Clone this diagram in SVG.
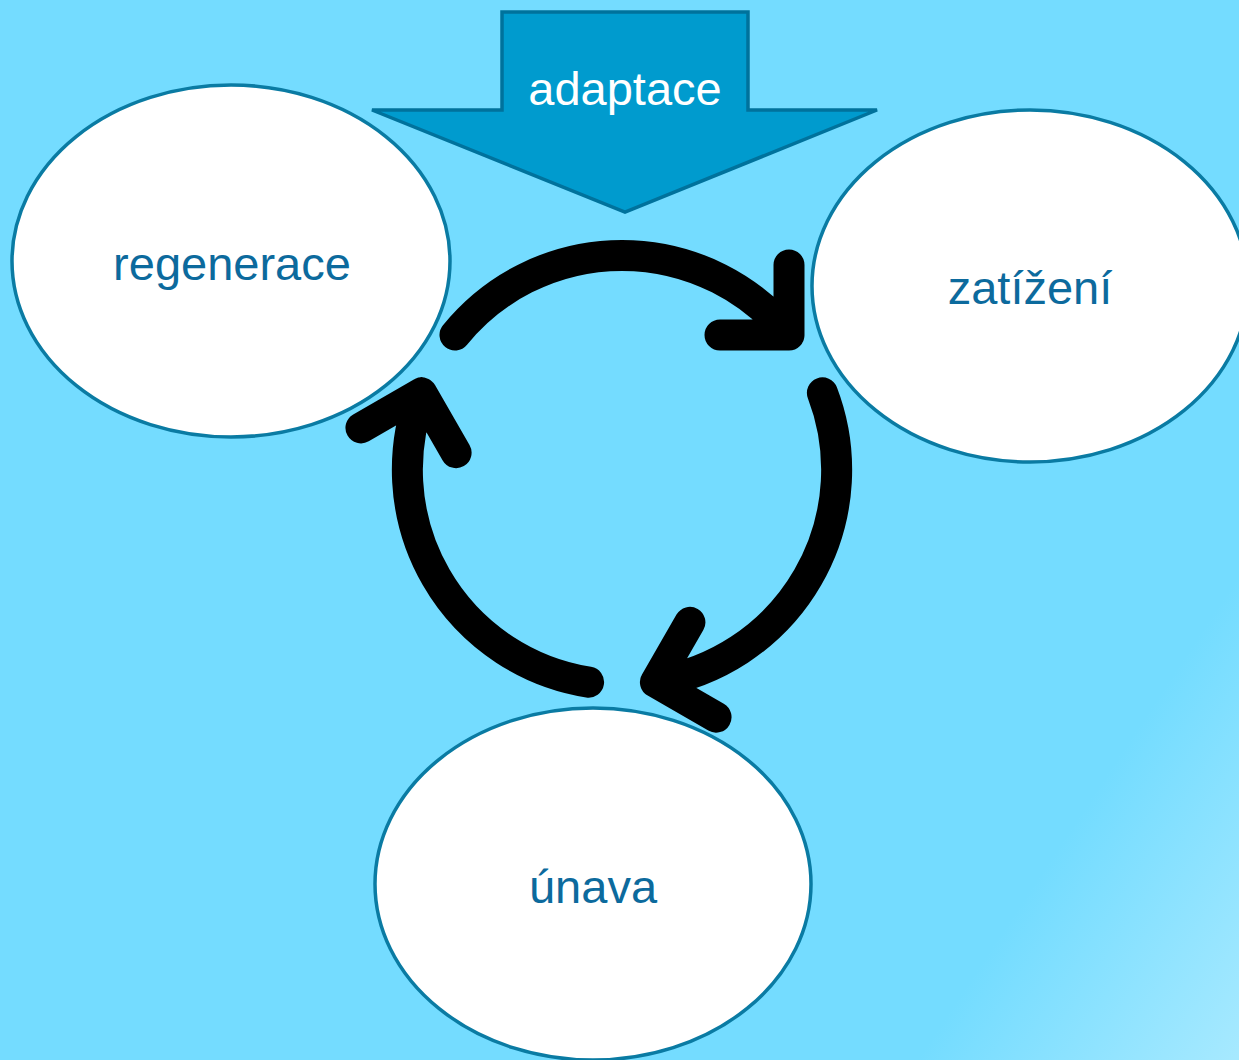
<svg xmlns="http://www.w3.org/2000/svg" width="1239" height="1060" viewBox="0 0 1239 1060">
  <defs>
    <linearGradient id="bg" gradientUnits="userSpaceOnUse" x1="1070" y1="830" x2="1290" y2="976">
      <stop offset="0" stop-color="#74DCFF"/>
      <stop offset="1" stop-color="#A6E9FF"/>
    </linearGradient>
  </defs>
  <style>
    .node { fill: #FFFFFF; stroke: #0A7BA3; stroke-width: 3.5; }
    .label { font-family: "Liberation Sans", Arial, sans-serif; font-size: 47px; text-anchor: middle; fill: #0C6A9D; }
    .banner { fill: #009BCE; stroke: #00729C; stroke-width: 3.5; stroke-linejoin: miter; }
    .banner-label { font-family: "Liberation Sans", Arial, sans-serif; font-size: 47px; text-anchor: middle; fill: #FFFFFF; }
    .cycle { fill: none; stroke: #000000; stroke-width: 31; stroke-linecap: round; stroke-linejoin: round; }
  </style>

  <!-- background -->
  <rect x="0" y="0" width="1239" height="1060" fill="url(#bg)"/>

  <!-- cycle arrows: one arc rotated about the cycle centre in 120 degree steps -->
  <g id="connectors">
    <path class="cycle" d="M455,335 A215,215 0 0 1 789,335 M789,265 L789,335 L720,335"/>
    <path class="cycle" transform="rotate(120 622 470)" d="M455,335 A215,215 0 0 1 789,335 M789,265 L789,335 L720,335"/>
    <path class="cycle" transform="rotate(240 622 470)" d="M455,335 A215,215 0 0 1 789,335 M789,265 L789,335 L720,335"/>
  </g>

  <g id="regenerace">
    <ellipse class="node" cx="231" cy="261" rx="219" ry="176"/>
    <text class="label" x="232" y="280">regenerace</text>
  </g>

  <g id="zatizeni">
    <ellipse class="node" cx="1030" cy="286" rx="218" ry="176"/>
    <text class="label" x="1030" y="304">zatížení</text>
  </g>

  <g id="unava">
    <ellipse class="node" cx="593" cy="884" rx="218" ry="176"/>
    <text class="label" x="593" y="903">únava</text>
  </g>

  <g id="adaptace">
    <path class="banner" d="M502,12 L748,12 L748,110 L877,110 L625,212 L372,110 L502,110 Z"/>
    <text class="banner-label" x="625" y="105">adaptace</text>
  </g>
</svg>
